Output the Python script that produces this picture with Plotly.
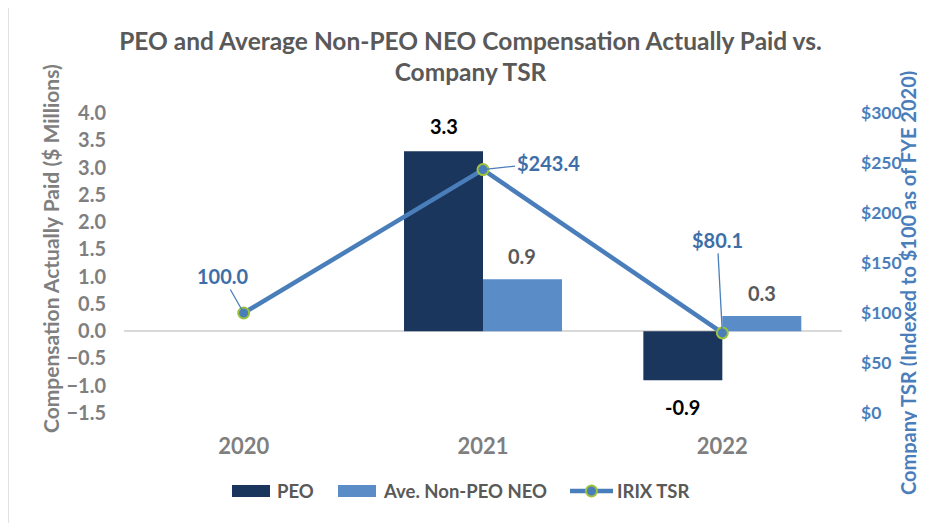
import plotly.graph_objects as go

years = ["2020", "2021", "2022"]
peo = [None, 3.3, -0.9]
non_peo = [None, 0.95, 0.28]
tsr = [100.0, 243.4, 80.1]
peo_labels = ["", "3.3", "-0.9"]
non_peo_labels = ["", "0.9", "0.3"]
tsr_labels = ["100.0", "$243.4", "$80.1"]
left_ticks = [-1.5, -1.0, -0.5, 0.0, 0.5, 1.0, 1.5, 2.0, 2.5, 3.0, 3.5, 4.0]
right_ticks = [0, 50, 100, 150, 200, 250, 300]
right_tick_text = ["$%d" % v for v in right_ticks]
legend_names = ["PEO", "Ave. Non-PEO NEO", "IRIX TSR"]

FONT = "Lato, 'Open Sans', sans-serif"
DARK = "#1b365d"
LIGHT = "#5a8cc8"
LINE = "#4a7ebb"
MK_EDGE = "#9dc23b"
GRAY = "#7f7f7f"
TITLEGRAY = "#595959"
BLUE_TXT = "#3e6ea8"

# layout in reference-pixel coordinates (page has an 8px body offset)
OFF = 8
W, H = 925, 523
PX0, PX1, PY0, PY1 = 124, 842, 113, 413
L = PX0 - OFF
T = PY0 - OFF
pw = PX1 - PX0
ph = PY1 - PY0
R = W - L - pw
B = H - T - ph


def px(x):
    return (x - PX0) / pw


def py(y):
    return (PY1 - y) / ph


fig = go.Figure()
fig.add_trace(go.Bar(x=years, y=peo, name=legend_names[0], marker=dict(color=DARK, line=dict(width=0))))
fig.add_trace(go.Bar(x=years, y=non_peo, name=legend_names[1], marker=dict(color=LIGHT, line=dict(width=0))))
fig.add_trace(go.Scatter(x=years, y=tsr, name=legend_names[2], yaxis="y2", mode="lines+markers",
                         line=dict(color=LINE, width=4.5),
                         marker=dict(size=11, color=LINE, line=dict(color=MK_EDGE, width=2))))

annotations = []
cat_w = pw / 3
bar_w = cat_w * 0.66 / 2
for i, yr in enumerate(years):
    if peo[i] is not None:
        annotations.append(dict(x=i, y=peo[i], xref="x", yref="y", text=peo_labels[i],
                                showarrow=False, xshift=-bar_w / 2, yshift=25 if peo[i] >= 0 else -27,
                                font=dict(family=FONT, size=20, color="#000000", weight="bold")))
    if non_peo[i] is not None:
        annotations.append(dict(x=i, y=non_peo[i], xref="x", yref="y", text=non_peo_labels[i],
                                showarrow=False, xshift=bar_w / 2, yshift=23,
                                font=dict(family=FONT, size=20, color=TITLEGRAY, weight="bold")))

offsets = [(-21, -37), (65, -7), (-5, -93)]
for i, yr in enumerate(years):
    ax, ay = offsets[i]
    annotations.append(dict(x=i, y=tsr[i], xref="x", yref="y2", text=tsr_labels[i],
                            showarrow=True, ax=ax, ay=ay, arrowhead=0, arrowwidth=1.3,
                            arrowcolor=LINE, standoff=4,
                            font=dict(family=FONT, size=20, color=BLUE_TXT, weight="bold")))

annotations.append(dict(x=px(50), y=py(249), xref="paper", yref="paper", xanchor="center", yanchor="middle",
                        text="Compensation Actually Paid ($ Millions)", textangle=-90,
                        showarrow=False, font=dict(family=FONT, size=21, color=GRAY, weight="bold")))
annotations.append(dict(x=px(908), y=py(283), xref="paper", yref="paper", xanchor="center", yanchor="middle",
                        text="Company TSR (Indexed to $100 as of FYE 2020)", textangle=-90,
                        showarrow=False, font=dict(family=FONT, size=20, color=LINE, weight="bold")))

# custom legend
LEG_Y = 491
shapes = [
    dict(type="rect", xref="paper", yref="paper", x0=px(232), x1=px(270), y0=py(497), y1=py(485),
         fillcolor=DARK, line=dict(width=0)),
    dict(type="rect", xref="paper", yref="paper", x0=px(338), x1=px(376), y0=py(497), y1=py(485),
         fillcolor=LIGHT, line=dict(width=0)),
    dict(type="line", xref="paper", yref="paper", x0=px(570), x1=px(613), y0=py(LEG_Y), y1=py(LEG_Y),
         line=dict(color=LINE, width=4.5)),
    dict(type="circle", xref="paper", yref="paper", x0=px(586), x1=px(597), y0=py(LEG_Y + 5.5), y1=py(LEG_Y - 5.5),
         fillcolor=LINE, line=dict(color=MK_EDGE, width=2)),
    dict(type="rect", xref="paper", yref="paper",
         x0=px(8), x1=px(W + 20), y0=py(H + 20), y1=py(5),
         line=dict(color="#d9d9d9", width=1.5), layer="below"),
]
for name, x0 in zip(legend_names, [275, 381, 615]):
    annotations.append(dict(x=px(x0), y=py(LEG_Y), xref="paper", yref="paper", text=name,
                            xanchor="left", yanchor="middle", showarrow=False,
                            font=dict(family=FONT, size=18.5, color=TITLEGRAY, weight="bold")))

fig.update_layout(
    width=W, height=H,
    margin=dict(l=L, r=R, t=T, b=B),
    paper_bgcolor="white", plot_bgcolor="white",
    font=dict(family=FONT),
    title=dict(text="PEO and Average Non-PEO NEO Compensation Actually Paid vs.<br>Company TSR",
               x=0.5, xanchor="center", y=1 - (49.5 - OFF) / H, yanchor="middle",
               font=dict(family=FONT, size=24.5, color=TITLEGRAY, weight="bold")),
    barmode="group", bargap=0.34, bargroupgap=0,
    xaxis=dict(type="category", range=[-0.5, 2.5], showgrid=False, showline=False, ticks="",
               tickfont=dict(family=FONT, size=22, color=GRAY, weight="bold"), ticklabelstandoff=18),
    yaxis=dict(range=[-1.5, 4.0], tickvals=left_ticks, tickformat=".1f", showgrid=False,
               zeroline=True, zerolinecolor="#d9d9d9", zerolinewidth=1.5,
               showline=False, ticks="", ticklabelstandoff=17,
               tickfont=dict(family=FONT, size=20, color=GRAY, weight="bold")),
    yaxis2=dict(range=[0, 300], tickvals=right_ticks, ticktext=right_tick_text, overlaying="y", side="right",
                showgrid=False, zeroline=False, showline=False, ticks="", ticklabelstandoff=18,
                tickfont=dict(family=FONT, size=17.5, color=LINE, weight="bold")),
    showlegend=False,
    annotations=annotations,
    shapes=shapes,
)

fig.write_html("out.html")
